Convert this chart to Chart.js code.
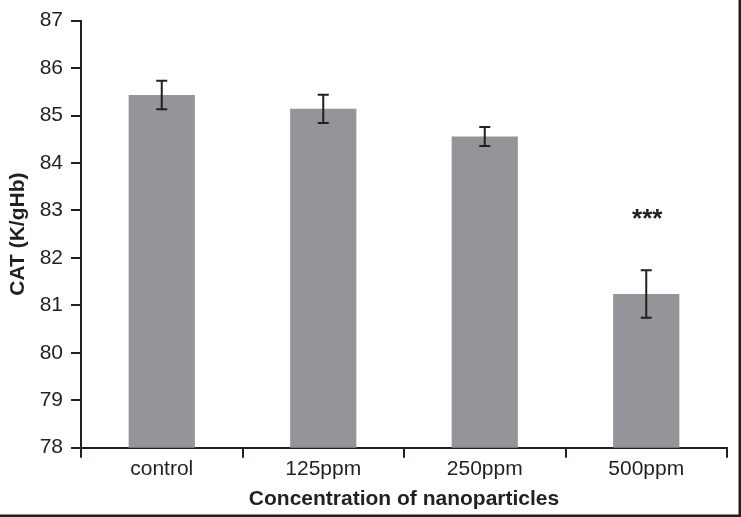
<!DOCTYPE html>
<html>
<head>
<meta charset="utf-8">
<script src="https://cdn.jsdelivr.net/npm/chart.js@4"></script>
<style>
  html, body { margin: 0; padding: 0; background: #fff; }
  #wrap { width: 741px; height: 517px; position: relative; }
</style>
</head>
<body>
<div id="wrap"><canvas id="chart" width="741" height="517"></canvas></div>
<script>
// Data
var categories = ['control', '125ppm', '250ppm', '500ppm'];
var catValues = [85.43, 85.14, 84.56, 81.24];
var errValues = [0.3, 0.3, 0.2, 0.5];
var sigMarks = ['', '', '', '***'];
var yTicks = [78, 79, 80, 81, 82, 83, 84, 85, 86, 87];

var ink = '#231f20';
var FONT = "'Liberation Sans', Arial, Helvetica, sans-serif";

// draw error bars, significance stars and the frame lines
var extrasPlugin = {
  id: 'extras',
  afterDatasetsDraw: function(chart){
    var ctx = chart.ctx;
    var meta = chart.getDatasetMeta(0);
    var y = chart.scales.y;
    ctx.save();
    ctx.strokeStyle = ink;
    ctx.lineWidth = 2;
    meta.data.forEach(function(bar, i){
      var x = bar.x;
      var top = y.getPixelForValue(catValues[i] + errValues[i]);
      var bot = y.getPixelForValue(catValues[i] - errValues[i]);
      ctx.beginPath();
      ctx.moveTo(x, top); ctx.lineTo(x, bot);
      ctx.moveTo(x - 5.5, top); ctx.lineTo(x + 5.5, top);
      ctx.moveTo(x - 5.5, bot); ctx.lineTo(x + 5.5, bot);
      ctx.stroke();
      if(sigMarks[i]){
        ctx.fillStyle = ink;
        ctx.font = 'bold 26px ' + FONT;
        ctx.textAlign = 'center';
        ctx.textBaseline = 'middle';
        ctx.fillText(sigMarks[i], x + 1, top - 50);
      }
    });
    // right and bottom frame
    ctx.fillStyle = ink;
    ctx.fillRect(738.5, 0, 2.5, 517);
    ctx.fillRect(0, 514.5, 741, 2.5);
    ctx.restore();
  }
};

var ctx = document.getElementById('chart');
new Chart(ctx, {
  type: 'bar',
  data: {
    labels: categories,
    datasets: [{
      data: catValues,
      backgroundColor: '#939598',
      borderWidth: 0,
      categoryPercentage: 1,
      barPercentage: 0.41
    }]
  },
  options: {
    responsive: false,
    animation: false,
    layout: { padding: { left: 0, right: 14, top: 15.7, bottom: 0 } },
    plugins: { legend: { display: false }, tooltip: { enabled: false } },
    scales: {
      x: {
        grid: { offset: true, drawOnChartArea: false, tickLength: 10, color: ink, lineWidth: 2 },
        border: { color: ink, width: 2 },
        ticks: { color: ink, font: { family: FONT, size: 21 }, padding: -1.5 },
        title: { display: true, text: 'Concentration of nanoparticles', color: ink,
                 font: { family: FONT, size: 21, weight: 'bold' }, padding: { top: 0, bottom: 5 } },
        afterFit: function(scale){ scale.height = 517 - 447.7; }
      },
      y: {
        min: 78, max: 87,
        afterBuildTicks: function(scale){ scale.ticks = yTicks.map(function(v){ return { value: v }; }); },
        grid: { drawOnChartArea: false, tickLength: 10, color: ink, lineWidth: 2 },
        border: { color: ink, width: 2 },
        ticks: { color: ink, font: { family: FONT, size: 21 }, padding: 8 },
        title: { display: true, text: 'CAT (K/gHb)', color: ink,
                 font: { family: FONT, size: 21, weight: 'bold' }, padding: { top: 6, bottom: 0 } },
        afterFit: function(scale){ scale.width = 81; }
      }
    }
  },
  plugins: [extrasPlugin]
});
</script>
</body>
</html>
